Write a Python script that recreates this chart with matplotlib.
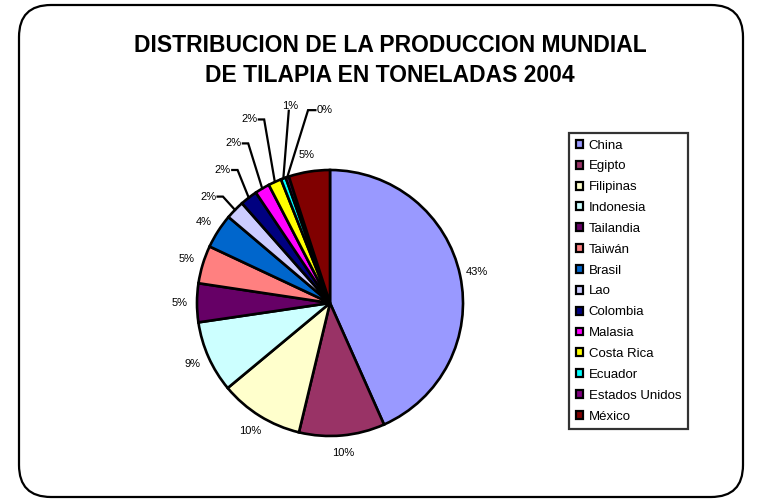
import numpy as np
import matplotlib
matplotlib.use("Agg")
import matplotlib.pyplot as plt
from matplotlib.patches import FancyBboxPatch, Patch
from matplotlib.transforms import IdentityTransform

# ---- data ----
countries = ["China", "Egipto", "Filipinas", "Indonesia", "Tailandia", "Taiwán",
             "Brasil", "Lao", "Colombia", "Malasia", "Costa Rica", "Ecuador",
             "Estados Unidos", "México"]
shares = [43.3, 10.4, 10.2, 8.7, 4.7, 4.6, 4.2, 2.3, 2.1, 1.8, 1.6, 0.6, 0.4, 5.0]
colors = ["#9999FF", "#993366", "#FFFFCC", "#CCFFFF", "#660066", "#FF8080",
          "#0066CC", "#CCCCFF", "#000080", "#FF00FF", "#FFFF00", "#00FFFF",
          "#800080", "#800000"]
title_lines = ["DISTRIBUCION DE LA PRODUCCION MUNDIAL",
               "DE TILAPIA EN TONELADAS 2004"]

# ---- layout for callout labels of thin slices (pie units) ----
callouts = {
    7: dict(pos=(-0.855, 0.80), ha="right", va="center"),
    8: dict(pos=(-0.745, 1.00), ha="right", va="center"),
    9: dict(pos=(-0.665, 1.20), ha="right", va="center"),
    10: dict(pos=(-0.545, 1.38), ha="right", va="center"),
    11: dict(pos=(-0.30, 1.445), ha="center", va="bottom"),
    12: dict(pos=(-0.10, 1.45), ha="left", va="center"),
}

plt.rcParams["font.family"] = ["Liberation Sans", "DejaVu Sans"]

W, H = 760, 501
fig = plt.figure(figsize=(W / 100, H / 100), dpi=100)

# rounded outer frame
frame = FancyBboxPatch((19, 4), 724, 492, boxstyle="round,pad=0,rounding_size=32",
                       transform=IdentityTransform(), facecolor="none",
                       edgecolor="black", linewidth=1.6, zorder=0)
fig.patches.append(frame)

# title
fig.text(390 / W, 1 - 45 / H, title_lines[0], ha="center", va="center",
         fontsize=16.5, fontweight="bold")
fig.text(390 / W, 1 - 76 / H, title_lines[1], ha="center", va="center",
         fontsize=16.5, fontweight="bold")

# pie axes: centre (330,303) px, radius 133 px
cx, cy, R, k = 330, 303, 133, 1.6
ax = fig.add_axes([(cx - k * R) / W, (H - cy - k * R) / H, 2 * k * R / W, 2 * k * R / H])
ax.patch.set_visible(False)
wedges, _ = ax.pie(shares, colors=colors, startangle=90, counterclock=False,
                   wedgeprops=dict(edgecolor="black", linewidth=1.9))
ax.set_xlim(-k, k)
ax.set_ylim(-k, k)
ax.set_aspect("equal")
ax.axis("off")

total = float(sum(shares))
for i, (w, v) in enumerate(zip(wedges, shares)):
    lab = "%d%%" % int(v / total * 100 + 0.5)
    mid = np.deg2rad((w.theta1 + w.theta2) / 2)
    ex, ey = np.cos(mid), np.sin(mid)
    if i in callouts:
        c = callouts[i]
        tx, ty = c["pos"]
        if c["ha"] == "right":
            xs = [ex, tx + 0.05, tx + 0.01]
            ys = [ey, ty, ty]
        elif c["ha"] == "left":
            xs = [ex, tx - 0.065, tx - 0.01]
            ys = [ey, ty, ty]
        else:
            xs = [ex, tx - 0.01]
            ys = [ey, ty]
        ax.plot(xs, ys, color="black", linewidth=1.6, clip_on=False,
                solid_joinstyle="miter")
        ax.text(tx, ty, lab, ha=c["ha"], va=c["va"], fontsize=8)
    else:
        d = 1.13
        ax.text(d * ex, d * ey, lab, ha="center", va="center", fontsize=8)

# legend
handles = [Patch(facecolor=c, edgecolor="black", linewidth=1.6) for c in colors]
leg = fig.legend(handles, countries, loc="upper left",
                 bbox_to_anchor=(569 / W, 1 - 133 / H), bbox_transform=fig.transFigure,
                 borderaxespad=0, fontsize=9.5, frameon=True, fancybox=False,
                 edgecolor="black", handlelength=0.55, handleheight=0.55,
                 handletextpad=0.45, labelspacing=0.67, borderpad=0.5)
leg.get_frame().set_linewidth(1.6)

fig.savefig("out.png", dpi=100)
